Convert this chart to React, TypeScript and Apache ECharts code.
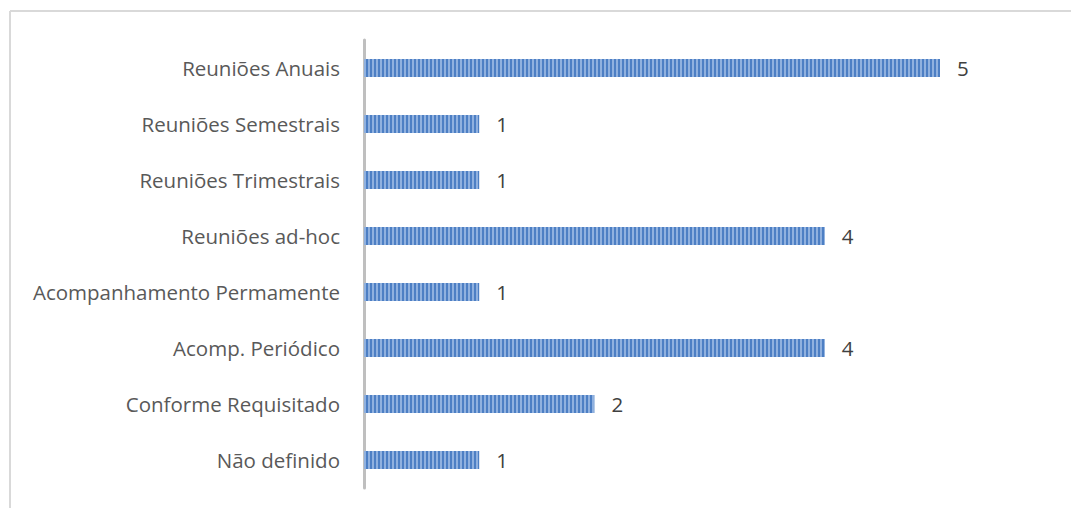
import React, { useEffect, useRef } from "react";
import * as echarts from "echarts";

const categories = [
  "Reuniões Anuais",
  "Reuniões Semestrais",
  "Reuniões Trimestrais",
  "Reuniões ad-hoc",
  "Acompanhamento Permamente",
  "Acomp. Periódico",
  "Conforme Requisitado",
  "Não definido",
];
const values = [5, 1, 1, 4, 1, 4, 2, 1];

export default function App() {
  const ref = useRef<HTMLDivElement>(null);
  useEffect(() => {
    if (!ref.current) return;
    const chart = echarts.init(ref.current, null, { renderer: "svg" });
    chart.setOption({
      animation: false,
      backgroundColor: "#ffffff",
      graphic: [
        { type: "line", shape: { x1: 10, y1: 11, x2: 1071, y2: 11 }, style: { stroke: "#d9d9d9", lineWidth: 2 } },
        { type: "line", shape: { x1: 10, y1: 11, x2: 10, y2: 508 }, style: { stroke: "#d9d9d9", lineWidth: 2 } },
      ],
      grid: { left: 364, right: 131, top: 40, bottom: 20 },
      xAxis: {
        type: "value",
        min: 0,
        max: 5,
        show: false,
        splitLine: { show: false },
      },
      yAxis: {
        type: "category",
        data: categories,
        inverse: true,
        axisLine: { show: true, lineStyle: { color: "#bfbfbf", width: 3 } },
        axisTick: { show: false },
        axisLabel: {
          color: "#595959",
          fontSize: 20.5,
          fontFamily: "Open Sans",
          margin: 24,
          padding: [0, 0, 2, 0],
        },
      },
      series: [
        {
          type: "bar",
          data: values,
          barWidth: 18,
          itemStyle: {
            color: "#4d7fc4",
            decal: {
              symbol: "rect",
              symbolSize: 1,
              color: "rgba(180,205,238,0.65)",
              dashArrayX: [2, 2],
              dashArrayY: [5, 0],
              rotation: 0,
            },
          },
          label: {
            show: true,
            position: "right",
            distance: 17,
            color: "#404040",
            fontSize: 20.5,
            fontFamily: "Open Sans",
            padding: [0, 0, 2, 0],
          },
        },
      ],
    });
    return () => chart.dispose();
  }, []);
  return (
    <div
      ref={ref}
      style={{ position: "fixed", left: 0, top: 0, width: 1071, height: 508 }}
    />
  );
}
